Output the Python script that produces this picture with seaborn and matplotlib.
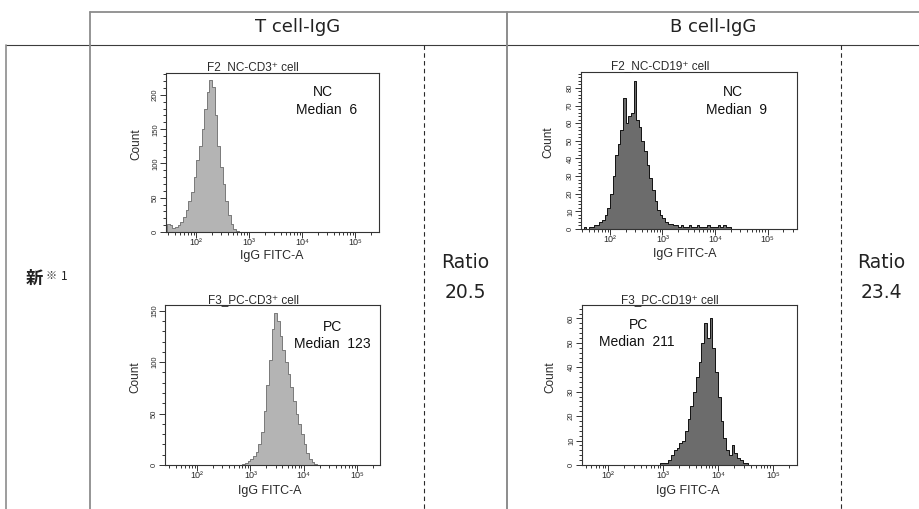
import numpy as np
import pandas as pd
import matplotlib
matplotlib.use("Agg")
import matplotlib.pyplot as plt
from matplotlib.ticker import FixedLocator, MultipleLocator, NullFormatter
import seaborn as sns

W, H = 919, 509
BIN_W = 0.05  # histogram bin width, in decades of IgG FITC-A

# counts per 0.05-decade bin
t_nc_start = 1.45
t_nc_counts = [12, 10, 6, 7, 10, 14, 22, 32, 45, 58, 80, 105, 125, 150, 180,
               205, 222, 212, 170, 125, 95, 70, 45, 25, 12, 5, 2, 0]

b_nc_start = 1.45
b_nc_counts = [0, 1, 0, 1, 1, 2, 2, 4, 5, 8, 12, 20, 30, 42, 48, 56, 74, 60,
               64, 66, 84, 62, 58, 50, 44, 36, 29, 22, 16, 11, 8, 6, 4, 3, 3,
               2, 2, 1, 2, 1, 1, 2, 1, 1, 2, 1, 1, 1, 2, 1, 1, 1, 2, 1, 2, 1,
               1, 0]

t_pc_start = 2.85
t_pc_counts = [1, 2, 4, 6, 9, 13, 20, 32, 52, 78, 102, 132, 148, 140, 125,
               112, 100, 88, 76, 62, 50, 40, 30, 20, 12, 6, 3, 1, 0]

b_pc_start = 2.95
b_pc_counts = [1, 1, 1, 2, 4, 6, 7, 9, 10, 14, 19, 24, 30, 36, 42, 50, 58,
               52, 60, 48, 38, 28, 18, 11, 6, 4, 8, 5, 3, 2, 1, 1, 0]

titles = ["F2_NC-CD3\u207a cell", "F2_NC-CD19\u207a cell",
          "F3_PC-CD3\u207a cell", "F3_PC-CD19\u207a cell"]
groups = ["NC", "NC", "PC", "PC"]
medians = [6, 9, 123, 211]
columns = ["T cell-IgG", "B cell-IgG"]
ratios = [20.5, 23.4]
row_label = "新"
decade_labels = ["10\u00b2", "10\u00b3", "10\u2074", "10\u2075"]

sns.set_theme(style="ticks")
plt.rcParams["font.family"] = ["Liberation Sans", "DejaVu Sans"]

fig = plt.figure(figsize=(W / 100, H / 100), dpi=100)
fig.patch.set_facecolor("white")


def fx(x):
    return x / W


def fy(y):
    return 1 - y / H


# table grid drawn on a full-figure overlay in pixel units
bg = fig.add_axes([0, 0, 1, 1], zorder=-1)
bg.set_xlim(0, W)
bg.set_ylim(H, 0)
bg.axis("off")
grey = "#8c8c8c"
bg.plot([90, W], [12, 12], color=grey, lw=1.3)
bg.plot([6, W], [45, 45], color="#3c3c3c", lw=0.8)
bg.plot([90, 90], [12, H], color=grey, lw=1.3)
bg.plot([507, 507], [12, H], color=grey, lw=1.4)
bg.plot([6, 6], [45, H], color=grey, lw=1.2)
for xd in (423.5, 840.5):
    bg.plot([xd, xd], [45, H], color="#2a2a2a", lw=0.8, ls=(0, (4, 3)))

# header / row labels / ratios
head_font = ["DejaVu Sans"]
for cx, txt in zip((298, 713), columns):
    fig.text(fx(cx), fy(27), txt, ha="center", va="center", fontsize=13,
             family=head_font, color="#222222")
fig.text(fx(34), fy(279), row_label, ha="center", va="center", fontsize=12.5,
         family=["Noto Sans CJK JP"], weight="bold", color="#222222")
fig.text(fx(51), fy(276), "※", ha="center", va="center", fontsize=8,
         family=["Noto Sans CJK JP"], color="#333333")
fig.text(fx(64), fy(276), "1", ha="center", va="center", fontsize=8.5,
         family=["Noto Sans CJK JP"], color="#222222")
for cx, r in zip((465, 881), ratios):
    fig.text(fx(cx), fy(263), "Ratio", ha="center", va="center", fontsize=13.5,
             family=head_font, color="#222222")
    fig.text(fx(cx), fy(293), f"{r:.1f}", ha="center", va="center",
             fontsize=13.5, family=head_font, color="#222222")

panels = [
    dict(start=t_nc_start, counts=t_nc_counts, box=(166, 73, 379, 232),
         xlim=(1.43, 5.45), ytop=232, ymaj=50, ymin=10,
         face="#b4b4b4", edge="#7a7a7a", title=(253, 67), count_x=136,
         grp=(323, 92), med=(327, 110), xlab=(272, 256)),
    dict(start=b_nc_start, counts=b_nc_counts, box=(581, 72, 797, 229),
         xlim=(1.45, 5.56), ytop=89, ymaj=10, ymin=2,
         face="#6c6c6c", edge="#111111", title=(660, 66), count_x=548,
         grp=(733, 92), med=(736, 110), xlab=(685, 254)),
    dict(start=t_pc_start, counts=t_pc_counts, box=(165, 305, 380, 465),
         xlim=(1.40, 5.43), ytop=155.5, ymaj=50, ymin=10,
         face="#b4b4b4", edge="#7a7a7a", title=(253, 300), count_x=135,
         grp=(333, 327), med=(332, 344), xlab=(270, 491)),
    dict(start=b_pc_start, counts=b_pc_counts, box=(582, 305, 797, 465),
         xlim=(1.53, 5.44), ytop=65.5, ymaj=10, ymin=2,
         face="#6c6c6c", edge="#111111", title=(670, 300), count_x=550,
         grp=(638, 325), med=(637, 342), xlab=(688, 491)),
]

txt_col = "#2a2a2a"
for i, p in enumerate(panels):
    l, t, r, b = p["box"]
    ax = fig.add_axes([fx(l), fy(b), (r - l) / W, (b - t) / H])
    ax.set_facecolor("white")

    n = len(p["counts"])
    lo = p["start"]
    hi = lo + BIN_W * n
    df = pd.DataFrame({
        "fitc": lo + BIN_W * (np.arange(n) + 0.5),
        "count": p["counts"],
    })
    sns.histplot(data=df, x="fitc", weights="count", binwidth=BIN_W,
                 binrange=(lo, hi), element="step", fill=True,
                 color=p["face"], alpha=1, edgecolor=p["edge"],
                 linewidth=0.7, ax=ax)
    ax.set_xlabel("")
    ax.set_ylabel("")
    ax.set_xlim(*p["xlim"])
    ax.set_ylim(0, p["ytop"])

    # log-decade ticks on the log10 axis
    ax.xaxis.set_major_locator(FixedLocator([2, 3, 4, 5]))
    ax.set_xticklabels(decade_labels)
    minors = [d + np.log10(k) for d in range(1, 6) for k in range(2, 10)]
    minors = [m for m in minors if p["xlim"][0] <= m <= p["xlim"][1]]
    ax.xaxis.set_minor_locator(FixedLocator(minors))
    ax.yaxis.set_major_locator(MultipleLocator(p["ymaj"]))
    ax.yaxis.set_minor_locator(MultipleLocator(p["ymin"]))
    ax.yaxis.set_minor_formatter(NullFormatter())

    ax.tick_params(which="both", direction="out", color="#333333", width=0.7)
    ax.tick_params(which="major", length=4)
    ax.tick_params(which="minor", length=2.3)
    ax.tick_params(axis="x", labelsize=6.5, pad=0.5, labelcolor=txt_col)
    ax.tick_params(axis="y", labelsize=5.5, pad=1, labelcolor=txt_col)
    for lab in ax.get_yticklabels():
        lab.set_rotation(90)
        lab.set_va("center")
    for s in ax.spines.values():
        s.set_visible(True)
        s.set_color("#333333")
        s.set_linewidth(0.8)

    fig.text(fx(p["title"][0]), fy(p["title"][1]), titles[i], ha="center",
             va="center", fontsize=8.5, color=txt_col)
    fig.text(fx(p["count_x"]), fy((t + b) / 2 - 8), "Count", rotation=90,
             ha="center", va="center", fontsize=8.5, color=txt_col)
    fig.text(fx(p["xlab"][0]), fy(p["xlab"][1]), "IgG FITC-A", ha="center",
             va="center", fontsize=9, color=txt_col)
    fig.text(fx(p["grp"][0]), fy(p["grp"][1]), groups[i], ha="center",
             va="center", fontsize=10, color="#111111")
    fig.text(fx(p["med"][0]), fy(p["med"][1]), f"Median  {medians[i]}",
             ha="center", va="center", fontsize=10, color="#111111")

fig.savefig("out.png", dpi=100, facecolor="white")
